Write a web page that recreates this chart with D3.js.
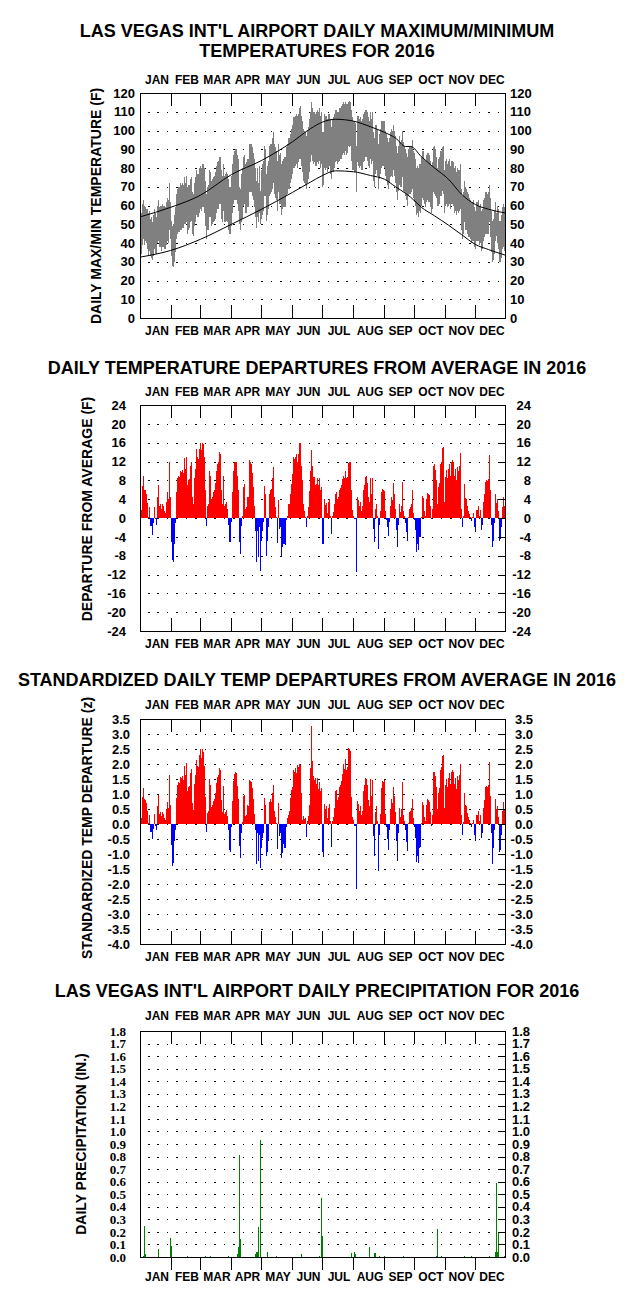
<!DOCTYPE html>
<html>
<head>
<meta charset="utf-8">
<script src="https://cdn.jsdelivr.net/npm/d3@7"></script>
<style>
  body { margin: 0; background: #fff; }
  svg { display: block; }
  text { font-family: "Liberation Sans", Arial, sans-serif; font-weight: bold; fill: #000; }
</style>
</head>
<body>
<script>
// ---- data ----
const monthNames = ["JAN","FEB","MAR","APR","MAY","JUN","JUL","AUG","SEP","OCT","NOV","DEC"];
const monthStart = [0,31,60,91,121,152,182,213,244,274,305,335,366];

const tempTicks = [0,10,20,30,40,50,60,70,80,90,100,110,120];
const depTicks = [-24,-20,-16,-12,-8,-4,0,4,8,12,16,20,24];
const zTicks = [-4.0,-3.5,-3.0,-2.5,-2.0,-1.5,-1.0,-0.5,0.0,0.5,1.0,1.5,2.0,2.5,3.0,3.5];
const precipTicks = [0.0,0.1,0.2,0.3,0.4,0.5,0.6,0.7,0.8,0.9,1.0,1.1,1.2,1.3,1.4,1.5,1.6,1.7,1.8];

// daily max / min (F), one row per month
const maxByMonth = [
  [49,56,61,63,60,59,58,58,56,57,53,54,51,55,58,56,54,60,63,59,60,60,61,60,60,59,62,64,63,72,62],
  [52,49,50,55,59,66,69,70,70,72,71,72,71,75,72,76,70,71,71,74,75,67,66,72,75,79,77,77,80],
  [81,80,82,82,80,73,66,70,71,79,78,73,74,75,76,78,81,83,84,86,86,79,76,82,76,77,78,77,74,70,70],
  [76,82,87,89,90,90,87,85,70,69,77,80,86,87,82,83,85,85,93,93,93,91,88,85,80,73,80,72,81,68],
  [79,82,84,92,90,77,81,84,92,93,93,96,99,93,91,89,84,93,87,88,82,84,85,86,86,91,93,96,96,98,101],
  [103,107,107,108,109,108,109,112,113,108,105,101,100,99,97,100,102,106,110,115,112,110,110,109,110,111,110,112,108,110],
  [99,99,109,108,108,106,109,109,106,102,106,107,109,111,111,110,110,112,112,113,114,115,114,115,114,114,115,116,115,111,107],
  [105,105,104,92,108,108,106,107,105,106,109,110,111,111,110,107,105,110,106,110,99,96,103,103,101,93,98,101,105,105,105],
  [105,100,98,96,94,96,99,101,100,103,100,97,92,88,92,97,94,95,100,94,92,90,88,86,90,92,92,92,95,89],
  [88,85,80,81,80,82,82,86,89,89,85,84,87,88,88,87,84,81,83,91,92,90,86,80,85,86,89,89,91,92,79],
  [84,85,82,84,85,81,84,84,83,80,81,78,80,79,79,82,69,65,67,73,70,69,67,66,64,63,62,62,63,59],
  [57,62,62,63,60,61,57,58,63,64,67,67,66,67,71,64,57,52,53,57,62,56,60,58,52,52,55,59,61,59,59]
];
const minByMonth = [
  [27,34,39,42,39,41,40,37,33,36,33,32,31,33,37,34,34,40,41,38,38,36,38,38,37,37,39,41,40,47,42],
  [33,28,27,30,35,42,45,46,46,47,47,48,48,50,50,51,45,47,48,51,52,45,44,49,51,55,54,54,56],
  [58,57,59,59,56,49,42,47,47,54,54,49,50,51,52,53,56,58,58,61,61,53,51,57,51,51,52,51,47,45,45],
  [49,56,61,63,63,63,61,57,50,47,51,53,60,61,56,56,59,59,67,67,67,65,63,59,54,48,54,51,56,50],
  [53,55,57,65,65,52,55,58,65,66,67,69,72,66,64,63,57,67,61,61,55,58,59,59,59,65,66,69,69,72,74],
  [77,80,80,81,82,80,83,85,85,81,78,73,72,71,69,72,74,78,83,87,84,82,83,81,81,83,82,84,80,82],
  [70,71,80,79,80,78,80,81,77,74,78,78,80,83,84,82,83,84,85,85,87,88,87,89,87,88,92,91,92,84,79],
  [79,78,78,67,83,81,80,81,79,79,83,84,86,86,84,81,80,85,82,84,73,70,77,79,76,69,74,77,80,81,81],
  [80,76,73,71,69,72,75,76,75,79,76,72,67,63,68,71,70,70,75,68,67,65,63,60,65,66,66,67,69,64],
  [62,60,55,56,54,57,56,60,64,63,61,59,62,63,62,62,59,56,58,67,66,65,64,60,60,61,65,65,68,66,56],
  [60,61,59,60,61,58,61,61,60,56,57,55,57,56,57,58,47,42,45,51,47,47,45,43,43,42,40,41,41,38],
  [37,41,41,41,39,40,36,37,41,43,45,45,45,45,51,43,35,30,31,34,41,44,40,37,30,30,32,37,38,36,37]
];

// normal max / min curves (day of year, F)
const normDays = [0,30,60,91,121,152,170,182,195,213,230,244,255,265,270,281,294,308,321,335,348,365];
const normMax  = [54,59,65.5,76.5,84,94,101,104.5,106,105,102,99,96,91.5,91.5,86,80,74,66,60.5,58,56];
const normMin  = [32.5,36,42,50,58,67,72.5,76,78.5,78,76,74,70,66.5,64.5,59,54.5,49.5,44.5,39.2,36.5,33.5];

// daily departure from average (F)
const depByMonth = [
  [-5.5,1.6,6.7,9.0,5.9,6.0,5.0,3.2,0.3,2.3,-1.7,-1.8,-3.6,-1.0,2.4,-0.3,-1.5,4.5,7.0,2.5,3.0,2.0,3.0,2.5,1.5,1.0,3.5,5.5,4.0,12.0,4.5],
  [-5.0,-9.0,-9.3,-5.5,-1.0,5.5,8.5,9.0,8.8,10.0,9.8,10.3,9.5,12.7,10.5,13.0,7.0,8.0,8.2,11.0,12.0,4.5,3.0,8.5,10.5,14.7,13.0,12.6,14.7],
  [16.0,14.5,16.0,15.8,13.0,6.0,-1.6,2.5,3.0,10.0,9.0,4.0,4.5,5.5,6.0,7.5,10.0,11.5,12.0,14.0,13.5,6.0,3.0,9.0,2.5,3.0,3.5,2.0,-1.5,-5.0,-5.2],
  [-0.8,5.5,10.0,12.0,12.0,12.0,9.0,6.0,-5.0,-7.6,-1.6,0.5,6.5,7.2,2.0,2.3,4.5,4.5,12.3,12.0,11.5,9.5,6.5,2.5,-2.7,-9.4,-2.7,-8.3,-2.0,-11.2],
  [-4.8,-2.7,-0.9,6.8,5.2,-8.0,-4.8,-2.0,5.2,6.0,6.2,8.4,10.9,4.5,2.3,0.3,-5.4,3.8,-2.3,-2.0,-8.3,-6.2,-5.5,-5.6,-5.8,-0.5,0.5,3.0,3.0,5.0,7.2],
  [9.4,12.9,12.6,13.0,13.6,12.0,13.5,16.0,16.0,11.0,8.0,3.0,1.5,0.3,-1.9,0.5,2.3,5.8,10.0,14.4,11.0,8.8,8.8,7.0,7.2,8.5,7.0,8.5,6.0,6.5],
  [-5.5,-5.6,4.0,2.8,3.2,1.0,3.5,4.0,0.5,-3.4,0.5,1.2,3.0,5.2,5.5,4.0,4.5,6.0,6.3,7.0,8.2,9.0,8.5,10.0,8.5,8.8,11.7,11.9,11.9,6.0,1.6],
  [0.5,-0.2,-0.3,-11.5,4.5,3.8,2.5,3.5,1.5,2.5,6.0,7.0,8.7,9.0,7.5,4.5,3.5,8.5,5.0,8.5,-2.3,-5.2,2.0,3.0,0.5,-6.6,-1.5,1.5,5.5,6.2,6.0],
  [5.8,1.5,-0.5,-2.0,-3.8,-0.8,2.5,4.5,3.8,7.5,5.0,2.0,-2.5,-6.2,-1.5,3.0,1.3,2.5,7.7,1.5,0.5,-1.0,-3.0,-4.8,0.2,2.0,2.4,3.0,5.9,1.0],
  [-0.4,-2.5,-7.2,-5.5,-6.8,-4.0,-4.0,0.3,4.6,4.2,1.5,0.5,4.0,5.4,5.2,4.8,2.5,-0.3,2.0,11.0,11.5,10.2,8.0,3.0,6.6,7.5,11.5,12.0,14.8,15.0,3.5],
  [8.8,10.2,8.5,10.5,11.5,9.0,12.0,12.4,12.0,9.0,10.5,8.0,10.8,10.0,11.0,13.7,2.0,-2.0,0.5,7.2,4.3,4.0,2.5,1.5,0.8,0.3,-0.6,0.3,1.0,-2.0],
  [-3.0,1.6,1.6,2.5,0.5,1.6,-2.6,-1.5,3.4,5.0,7.7,8.0,7.8,8.2,13.4,6.0,-1.5,-6.2,-4.9,-1.0,5.2,3.2,4.0,1.5,-4.9,-4.5,-2.0,2.4,4.5,2.6,3.0]
];

// standardized daily departure (z)
const zByMonth = [
  [-0.93,0.2,0.9,1.2,0.85,0.8,0.7,0.45,0.05,0.3,-0.25,-0.25,-0.5,-0.15,0.33,-0.05,-0.2,0.6,0.98,0.35,0.4,0.28,0.4,0.35,0.2,0.15,0.5,0.75,0.55,1.62,0.62],
  [-0.7,-1.41,-1.3,-0.58,-0.19,0.86,1.3,1.4,1.38,1.56,1.53,1.6,1.48,1.92,1.64,2.03,1.1,1.25,1.28,1.7,1.85,0.7,0.47,1.33,1.64,2.14,1.95,1.9,2.31],
  [2.5,2.2,2.5,2.4,1.95,0.9,-0.27,0.37,0.45,1.5,1.3,0.58,0.65,0.78,0.85,1.05,1.38,1.58,1.63,1.87,1.8,0.8,0.4,1.26,0.35,0.4,0.47,0.27,-0.2,-0.86,-0.92],
  [-0.11,0.78,1.42,1.67,1.73,1.7,1.27,0.85,-0.74,-1.13,-0.3,0.07,0.93,0.98,0.28,0.3,0.62,0.6,1.48,1.42,1.4,1.2,0.85,0.33,-0.2,-1.33,-0.3,-1.24,-0.35,-1.47],
  [-0.8,-0.46,-0.3,0.87,0.65,-1.08,-0.92,-0.58,0.75,0.85,0.75,1.03,1.29,0.42,0.25,0.03,-0.83,0.7,-0.41,-0.3,-1.13,-0.98,-0.67,-0.8,-0.8,-0.1,0.2,0.3,0.42,0.87,1.14],
  [1.25,1.81,1.75,1.87,1.7,1.98,1.9,2.0,1.98,1.03,0.14,0.26,0.17,0.2,-0.44,0.1,0.26,0.64,1.87,3.26,2.09,1.59,1.48,1.55,1.33,1.55,1.17,1.4,1.1,1.2],
  [-0.94,-1.1,0.67,0.5,0.6,0.2,0.55,0.67,0.1,-0.75,0.1,0.25,0.55,1.1,1.15,0.8,0.9,1.25,1.3,1.45,1.67,2.0,1.85,2.17,1.8,1.9,2.53,2.5,2.45,0.9,0.25],
  [0.12,-0.05,-0.05,-2.17,0.78,0.67,0.44,0.6,0.3,0.45,1.1,1.3,1.55,1.5,1.3,0.8,0.6,1.5,0.95,1.47,-0.4,-1.06,0.4,0.6,0.1,-1.56,-0.35,0.35,1.2,1.45,1.4],
  [1.47,0.35,-0.1,-0.5,-0.87,-0.2,0.5,0.85,0.7,1.22,0.95,0.4,-0.55,-1.24,-0.3,0.55,0.25,0.5,1.4,0.3,0.1,-0.2,-0.6,-0.91,0.05,0.4,0.45,0.55,0.83,0.2],
  [-0.1,-0.45,-1.28,-1.05,-1.3,-0.8,-0.75,0.05,0.72,0.65,0.25,0.1,0.62,0.85,0.8,0.75,0.4,-0.05,0.3,1.72,1.75,1.6,1.25,0.5,1.05,1.2,1.8,1.9,2.28,2.3,0.55],
  [1.3,1.5,1.25,1.55,1.7,1.32,1.75,1.8,1.75,1.32,1.55,1.18,1.6,1.47,1.62,2.0,0.3,-0.35,0.07,1.05,0.63,0.6,0.37,0.22,0.12,0.05,-0.1,0.05,0.15,-0.35],
  [-0.56,0.3,0.3,0.45,0.1,0.3,-0.45,-0.3,0.55,0.8,1.22,1.27,1.22,1.3,2.06,0.95,-0.3,-1.33,-0.8,-0.2,0.85,0.5,0.6,0.25,-0.94,-0.85,-0.35,0.45,0.75,0.5,0.55]
];

// daily precipitation (inches), only the days with some
const precipDays = [3,4,5,18,30,31,47,65,70,88,97,98,99,100,115,116,117,118,120,127,136,161,179,181,182,211,214,215,229,234,235,239,244,263,296,297,301,324,331,349,355,356,357,358,364];
const precipIn   = [0.01,0.25,0.02,0.06,0.15,0.09,0.01,0.01,0.01,0.01,0.02,0.08,0.81,0.14,0.02,0.04,0.04,0.24,0.93,0.04,0.01,0.02,0.01,0.47,0.17,0.03,0.04,0.02,0.08,0.03,0.03,0.01,0.01,0.01,0.01,0.22,0.01,0.01,0.01,0.01,0.04,0.59,0.04,0.19,0.01];

const dailyMax = maxByMonth.flat();
const dailyMin = minByMonth.flat();
const departure = depByMonth.flat();
const zDeparture = zByMonth.flat();

// ---- drawing ----
const width = 634, height = 1291;
const svg = d3.select("body").append("svg")
    .attr("width", width)
    .attr("height", height);

const x = d3.scaleLinear().domain([0, 366]).range([140, 506]);

function startPanel(p) {
  const y = d3.scaleLinear().domain(p.domain).range([p.bottom, p.top]);
  const g = svg.append("g");

  p.title.forEach((t, i) => g.append("text")
      .attr("x", 317)
      .attr("y", p.titleY + i * 20)
      .attr("text-anchor", "middle")
      .attr("font-size", 18)
      .text(t));

  // dotted grid
  const inner = p.ticks.filter(v => v > p.domain[0] && v < p.domain[1]);
  const dotX = d3.range(148, 503, 9.45);
  g.append("g")
    .selectAll("g")
    .data(inner)
    .join("g")
      .attr("transform", v => `translate(0,${Math.round(y(v))})`)
    .selectAll("rect")
    .data(dotX)
    .join("rect")
      .attr("x", d => d)
      .attr("width", 1.5)
      .attr("height", 1)
      .attr("shape-rendering", "crispEdges");

  return {g, y, inner};
}

function finishPanel(p, g, y, inner) {
  g.append("rect")
      .attr("x", 140.5)
      .attr("y", p.top + 0.5)
      .attr("width", 365)
      .attr("height", p.bottom - p.top)
      .attr("fill", "none")
      .attr("stroke", "#000");

  const bounds = monthStart.slice(1, -1);
  g.append("g").selectAll("line").data(bounds).join("line")
      .attr("x1", d => x(d) + 0.5).attr("x2", d => x(d) + 0.5)
      .attr("y1", p.top).attr("y2", p.top + 13)
      .attr("stroke", "#000");
  g.append("g").selectAll("line").data(bounds).join("line")
      .attr("x1", d => x(d) + 0.5).attr("x2", d => x(d) + 0.5)
      .attr("y1", p.bottomOut ? p.bottom : p.bottom - 13)
      .attr("y2", p.bottomOut ? p.bottom + 13 : p.bottom)
      .attr("stroke", "#000");

  if (p.rightTicks) {
    g.append("g").selectAll("line").data(inner).join("line")
        .attr("x1", 498).attr("x2", 506)
        .attr("y1", v => Math.round(y(v)) + 0.5)
        .attr("y2", v => Math.round(y(v)) + 0.5)
        .attr("stroke", "#000");
  }

  // month names above and below
  [p.monthTop, p.monthBottom].forEach(yy => {
    g.append("g").selectAll("text").data(monthNames).join("text")
        .attr("x", (d, i) => x((monthStart[i] + monthStart[i + 1]) / 2) + 1.5)
        .attr("y", yy)
        .attr("text-anchor", "middle")
        .attr("font-size", 12)
        .text(d => d);
  });

  // y tick labels both sides
  g.append("g").selectAll("text").data(p.ticks).join("text")
      .attr("x", p.leftX)
      .attr("y", v => y(v))
      .attr("dy", "0.36em")
      .attr("text-anchor", "end")
      .attr("font-size", 13)
      .style("font-family", p.leftFont || null)
      .text(p.fmt);
  g.append("g").selectAll("text").data(p.ticks).join("text")
      .attr("x", p.rightX)
      .attr("y", v => y(v))
      .attr("dy", "0.36em")
      .attr("text-anchor", p.rightAnchor)
      .attr("font-size", 13)
      .text(p.fmt);

  g.append("text")
      .attr("transform", `translate(${p.labelX},${p.labelY}) rotate(-90)`)
      .attr("dy", "0.36em")
      .attr("text-anchor", "middle")
      .attr("font-size", 14)
      .text(p.label);
}

// panel 1: daily max/min temperatures
{
  const p = {
    top: 93, bottom: 318, domain: [0, 120], ticks: tempTicks, fmt: v => String(v),
    title: ["LAS VEGAS INT'L AIRPORT DAILY MAXIMUM/MINIMUM", "TEMPERATURES FOR 2016"], titleY: 37,
    monthTop: 84, monthBottom: 335, leftX: 135, rightX: 510, rightAnchor: "start",
    label: "DAILY MAX/MIN TEMPERATURE (F)", labelX: 96, labelY: 206, rightTicks: false
  };
  const {g, y, inner} = startPanel(p);

  g.append("g")
      .attr("fill", "#808080")
      .attr("shape-rendering", "crispEdges")
    .selectAll("rect")
    .data(dailyMax)
    .join("rect")
      .attr("x", (d, i) => x(i))
      .attr("width", 1)
      .attr("y", d => y(d))
      .attr("height", (d, i) => y(dailyMin[i]) - y(d));

  const line = d3.line()
      .x(d => x(d[0] + 0.5))
      .y(d => y(d[1]))
      .curve(d3.curveMonotoneX);
  [normMax, normMin].forEach(arr => g.append("path")
      .datum(normDays.map((d, i) => [d, arr[i]]))
      .attr("fill", "none")
      .attr("stroke", "#000")
      .attr("stroke-width", 1)
      .attr("d", line));

  finishPanel(p, g, y, inner);
}

// panel 2: departures
{
  const p = {
    top: 405, bottom: 631, domain: [-24, 24], ticks: depTicks, fmt: v => String(v),
    title: ["DAILY TEMPERATURE DEPARTURES FROM AVERAGE IN 2016"], titleY: 374,
    monthTop: 396, monthBottom: 648, leftX: 126, rightX: 531, rightAnchor: "end",
    label: "DEPARTURE FROM AVERAGE (F)", labelX: 87, labelY: 509, rightTicks: true
  };
  const {g, y, inner} = startPanel(p);
  g.append("g")
      .attr("shape-rendering", "crispEdges")
    .selectAll("rect")
    .data(departure)
    .join("rect")
      .attr("x", (d, i) => x(i))
      .attr("width", 1)
      .attr("y", d => Math.min(y(d), y(0)))
      .attr("height", d => Math.abs(y(d) - y(0)))
      .attr("fill", d => d >= 0 ? "#ff0000" : "#0000ff");
  finishPanel(p, g, y, inner);
}

// panel 3: standardized departures
{
  const p = {
    top: 719, bottom: 944, domain: [-4, 3.5], ticks: zTicks, fmt: v => v.toFixed(1),
    title: ["STANDARDIZED DAILY TEMP DEPARTURES FROM AVERAGE IN 2016"], titleY: 686,
    monthTop: 709, monthBottom: 961, leftX: 130, rightX: 533, rightAnchor: "end",
    label: "STANDARDIZED TEMP DEPARTURE (z)", labelX: 87, labelY: 828, rightTicks: true
  };
  const {g, y, inner} = startPanel(p);
  g.append("g")
      .attr("shape-rendering", "crispEdges")
    .selectAll("rect")
    .data(zDeparture)
    .join("rect")
      .attr("x", (d, i) => x(i))
      .attr("width", 1)
      .attr("y", d => Math.min(y(d), y(0)))
      .attr("height", d => Math.abs(y(d) - y(0)))
      .attr("fill", d => d >= 0 ? "#ff0000" : "#0000ff");
  finishPanel(p, g, y, inner);
}

// panel 4: precipitation
{
  const p = {
    top: 1031, bottom: 1257, domain: [0, 1.8], ticks: precipTicks, fmt: v => v.toFixed(1),
    title: ["LAS VEGAS INT'L AIRPORT DAILY PRECIPITATION FOR 2016"], titleY: 997,
    monthTop: 1020, monthBottom: 1281, leftX: 126, rightX: 512, rightAnchor: "start",
    label: "DAILY PRECIPITATION (IN.)", labelX: 81, labelY: 1144, rightTicks: true,
    bottomOut: true, leftFont: "'Liberation Serif', 'Times New Roman', serif"
  };
  const {g, y, inner} = startPanel(p);
  g.append("g")
      .attr("fill", "#008000")
      .attr("shape-rendering", "crispEdges")
    .selectAll("rect")
    .data(precipDays)
    .join("rect")
      .attr("x", d => x(d))
      .attr("width", 1)
      .attr("y", (d, i) => Math.min(y(precipIn[i]), y(0) - 1))
      .attr("height", (d, i) => Math.max(1, y(0) - y(precipIn[i])));
  finishPanel(p, g, y, inner);
}
</script>
</body>
</html>
